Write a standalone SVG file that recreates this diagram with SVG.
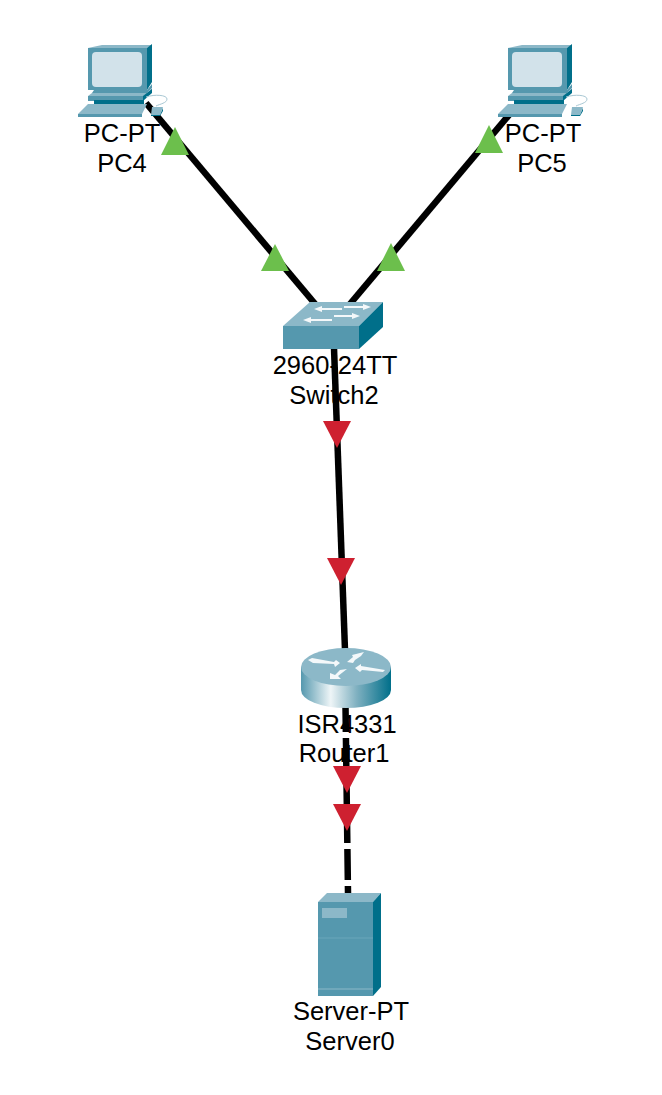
<svg xmlns="http://www.w3.org/2000/svg" width="662" height="1095" viewBox="0 0 662 1095">
<style>
.link{stroke:#000;stroke-width:6.500;fill:none}
.up{fill:#6cbf4c}
.down{fill:#ce2030}
.front{fill:#5598ae}
.top{fill:#8cb8c8}
.side{fill:#006f8a}
.arrow{fill:#f4f8fa}
text{font-family:"Liberation Sans",Arial,sans-serif;font-size:25.500px;fill:#000;text-anchor:middle}
</style>
<defs>
<linearGradient id="rg" x1="0" x2="1" y1="0" y2="0">
<stop offset="0" stop-color="#5598ae"/><stop offset="0.33" stop-color="#eef5f7"/><stop offset="0.62" stop-color="#7fb0c0"/><stop offset="1" stop-color="#006f8a"/>
</linearGradient>
<g id="pc">
<path class="top" d="M88 48L102 45H152L147 48Z"/>
<rect class="front" x="88" y="48" width="59" height="42"/>
<path class="side" d="M147 48L152 44V82L147 90Z"/>
<rect x="92" y="52" width="50" height="35" rx="4" fill="#d2e2ea"/>
<path class="front" d="M94 90H147L152 84V88L147 93H92Z"/>
<path class="top" d="M92 93H147L152 88V91L147 96H88Z"/>
<rect class="front" x="88" y="96" width="55" height="5"/>
<path class="side" d="M143 96L152 89V93L143 101Z"/>
<rect class="side" x="94" y="100" width="50" height="4"/>
<path class="top" d="M88 104H147L142 114H78Z"/>
<path class="front" d="M78 114H142V117H78Z"/>
<path d="M146 97C155 94 167 95 167 99C167 103 160 104 156 106" fill="none" stroke="#a9c8d4" stroke-width="1"/>
<path class="top" d="M152 107H163L160 115H151Z"/>
<path class="side" d="M151 115H160L163 108V111L160 116H151Z"/>
</g>
</defs>
<g id="connectors">
<path class="link" d="M146 103L316 305"/>
<path class="link" d="M519 103L350 304"/>
<path class="link" d="M334 348L345 650"/>
<path class="link" d="M345.500 706L348 893" stroke-dasharray="31 6" stroke-dashoffset="5"/>
<path class="up" d="M175 127L189 155H161Z"/>
<path class="up" d="M275 244L289 271H261Z"/>
<path class="up" d="M391 243L405 271H377Z"/>
<path class="up" d="M489 125L503 153H475Z"/>
<path class="down" d="M323 421H351L337 448Z"/>
<path class="down" d="M327 558H355L341 585Z"/>
<path class="down" d="M333 766H361L347 793Z"/>
<path class="down" d="M333 804H361L347 831Z"/>
</g>
<g id="PC4">
<use href="#pc"/>
<text x="122" y="142">PC-PT</text>
<text x="122" y="172">PC4</text>
</g>
<g id="PC5">
<use href="#pc" x="420"/>
<text x="543" y="142">PC-PT</text>
<text x="542" y="172">PC5</text>
</g>
<g id="Switch2">
<path class="top" d="M283 326L310 302H383L359 326Z"/>
<rect class="front" x="283" y="326" width="76" height="23"/>
<path class="side" d="M359 326L383 302V327L359 349Z"/>
<path class="arrow" d="M314 309L322 306V308H342V310H322V312Z"/>
<path class="arrow" d="M371 307L363 304V306H344V308H363V310Z"/>
<path class="arrow" d="M303 320L311 317V319H332V321H311V323Z"/>
<path class="arrow" d="M360 316L352 313V315H334V317H352V319Z"/>
<text x="335" y="374">2960-24TT</text>
<text x="334" y="404">Switch2</text>
</g>
<g id="Router1">
<path d="M301 667V690A45 18 0 0 0 391 690V667Z" fill="url(#rg)"/>
<ellipse class="top" cx="346" cy="667" rx="45" ry="19"/>
<path class="arrow" d="M308 660L312 658L334 662L336 660L340 663L335 667L334 664L313 663Z"/>
<path class="arrow" d="M347 662L353 657L352 655L364 652L361 656L355 660L353 663Z"/>
<path class="arrow" d="M355 668L361 664L361 666L385 670L383 672L362 670L360 672Z"/>
<path class="arrow" d="M330 673L335 675L340 670L347 669L338 676L341 679L330 679Z"/>
<text x="347" y="733">ISR4331</text>
<text x="344" y="762">Router1</text>
</g>
<g id="Server0">
<path class="top" d="M318 902L327 893H381L373 902Z"/>
<rect class="front" x="318" y="902" width="55" height="94"/>
<path class="side" d="M373 902L381 893V987L373 996Z"/>
<rect x="322" y="908" width="25" height="10" fill="#8cb8c8"/>
<path d="M318 938H373" stroke="#6ba6ba" stroke-width="1"/>
<path d="M318 989H373" stroke="#8cb8c8" stroke-width="1"/>
<text x="351" y="1020">Server-PT</text>
<text x="350" y="1050">Server0</text>
</g>
</svg>
